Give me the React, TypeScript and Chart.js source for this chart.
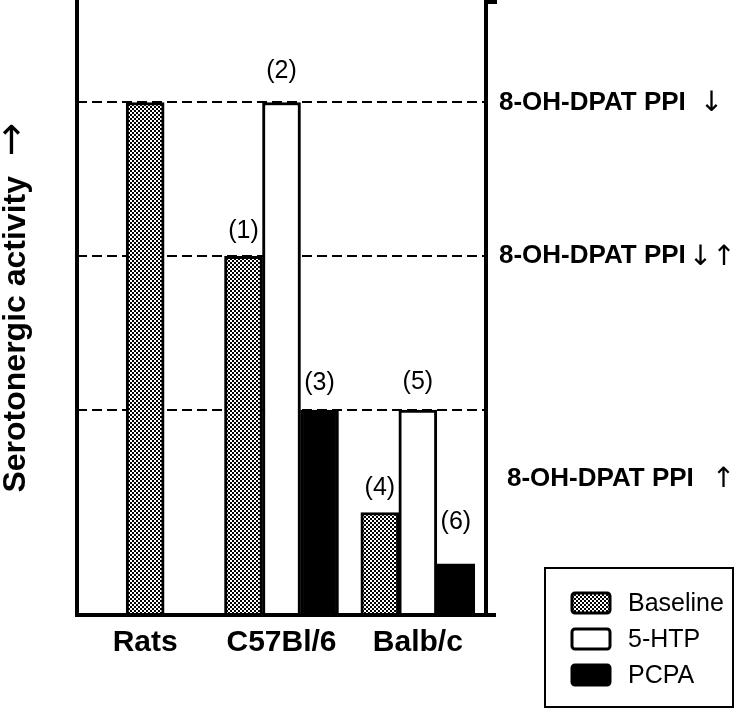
import React, { useEffect, useRef } from 'react';
import { Chart, registerables } from 'chart.js';

Chart.register(...registerables);

// ---------- data ----------
const categories = ['Rats', 'C57Bl/6', 'Balb/c'];
const seriesNames = ['Baseline', '5-HTP', 'PCPA'];
const baselineValues = [10, 7, 2];
const htpValues = [null, 10, 4];
const pcpaValues = [null, 4, 1];
const baselineNotes = ['', '(1)', '(4)'];
const htpNotes = ['', '(2)', '(5)'];
const pcpaNotes = ['', '(3)', '(6)'];
const yMin = 0;
const yMax = 12;
const guideLevels = [4, 7, 10];
const sideLabels = ['8-OH-DPAT PPI', '8-OH-DPAT PPI', '8-OH-DPAT PPI'];
const sideArrows = ['\u2193', '\u2193\u2191', '\u2191'];
const sideLevels = [10, 7, 2.65];
const yTitle = 'Serotonergic activity';
const yTitleArrow = '\u2192';

// ---------- style ----------
const FONT = '"Liberation Sans", Arial, Helvetica, sans-serif';
const ARROW_FONT = '"DejaVu Sans", sans-serif';
const notesByDataset = [baselineNotes, htpNotes, pcpaNotes];
const noteLift = [
  [0, 25, 24],
  [0, 31, 28],
  [0, 27, 42],
];
const sideIndent = [0, 0, 8];
const sideGap = [14, 3, 18];

function makeChecker(): CanvasPattern | string {
  const c = document.createElement('canvas');
  c.width = 4;
  c.height = 4;
  const g = c.getContext('2d');
  if (!g) return '#888';
  g.fillStyle = '#fff';
  g.fillRect(0, 0, 4, 4);
  g.fillStyle = '#000';
  g.fillRect(0, 0, 2, 2);
  g.fillRect(2, 2, 2, 2);
  const p = g.createPattern(c, 'repeat');
  return p || '#888';
}

const decorPlugin = {
  id: 'decor',
  afterDatasetsDraw(chart: any) {
    const { ctx, chartArea: a, scales } = chart;
    const y = scales.y;
    ctx.save();

    // axes
    ctx.strokeStyle = '#000';
    ctx.lineWidth = 4;
    ctx.lineCap = 'butt';
    ctx.beginPath();
    ctx.moveTo(a.left, a.top);
    ctx.lineTo(a.left, a.bottom + 2);
    ctx.moveTo(a.left - 2, a.bottom);
    ctx.lineTo(a.right + 10, a.bottom);
    ctx.stroke();
    ctx.beginPath();
    ctx.moveTo(a.right + 11, a.top + 2);
    ctx.lineTo(a.right, a.top + 2);
    ctx.lineTo(a.right, a.bottom);
    ctx.stroke();

    // bar notes
    ctx.fillStyle = '#000';
    ctx.textAlign = 'center';
    ctx.textBaseline = 'middle';
    ctx.font = `25px ${FONT}`;
    chart.data.datasets.forEach((_ds: any, di: number) => {
      const meta = chart.getDatasetMeta(di);
      const notes = notesByDataset[di];
      meta.data.forEach((el: any, i: number) => {
        const t = notes[i];
        if (!t || el == null || el.y == null || isNaN(el.y)) return;
        ctx.fillText(t, el.x, el.y - noteLift[di][i]);
      });
    });

    // right-side labels
    ctx.textAlign = 'left';
    sideLabels.forEach((lab, i) => {
      const yy = y.getPixelForValue(sideLevels[i]);
      const x0 = a.right + 13 + sideIndent[i];
      ctx.font = `bold 26px ${FONT}`;
      ctx.fillText(lab, x0, yy);
      const w = ctx.measureText(lab).width;
      ctx.font = `28px ${ARROW_FONT}`;
      ctx.fillText(sideArrows[i], x0 + w + sideGap[i], yy + 1);
    });

    // y title (rotated)
    ctx.save();
    const cy = (a.top + a.bottom) / 2;
    ctx.translate(25, cy);
    ctx.rotate(-Math.PI / 2);
    ctx.textBaseline = 'alphabetic';
    ctx.font = `bold 32px ${FONT}`;
    const wt = ctx.measureText(yTitle).width;
    const gap = 20;
    ctx.font = `40px ${ARROW_FONT}`;
    const wa = ctx.measureText(yTitleArrow).width;
    const total = wt + gap + wa;
    ctx.font = `bold 32px ${FONT}`;
    ctx.fillText(yTitle, -total / 2, 0);
    ctx.font = `40px ${ARROW_FONT}`;
    ctx.fillText(yTitleArrow, -total / 2 + wt + gap, -1);
    ctx.restore();

    // legend box
    const W = chart.width;
    const H = chart.height;
    const bx = W - 191;
    const by = H - 142;
    const bw = 188;
    const bh = 139;
    ctx.lineWidth = 2;
    ctx.strokeStyle = '#000';
    ctx.strokeRect(bx, by, bw, bh);
    chart.data.datasets.forEach((ds: any, di: number) => {
      const cyy = by + 35 + di * 36;
      const sx = bx + 27;
      ctx.beginPath();
      if (ctx.roundRect) ctx.roundRect(sx, cyy - 10, 38, 20, 3);
      else ctx.rect(sx, cyy - 10, 38, 20);
      ctx.fillStyle = ds.backgroundColor;
      ctx.fill();
      ctx.lineWidth = 3;
      ctx.strokeStyle = '#000';
      ctx.stroke();
      ctx.fillStyle = '#000';
      ctx.font = `25px ${FONT}`;
      ctx.textAlign = 'left';
      ctx.textBaseline = 'middle';
      ctx.fillText(ds.label, bx + 83, cyy + 1);
    });

    ctx.restore();
  },
};

export default function App() {
  const ref = useRef<HTMLCanvasElement | null>(null);

  useEffect(() => {
    const canvas = ref.current;
    if (!canvas) return;
    const checker = makeChecker();
    const chart = new Chart(canvas, {
      type: 'bar',
      data: {
        labels: categories,
        datasets: [
          { label: seriesNames[0], data: baselineValues, backgroundColor: checker as any, borderColor: '#000', borderWidth: 3 },
          { label: seriesNames[1], data: htpValues as any, backgroundColor: '#fff', borderColor: '#000', borderWidth: 3 },
          { label: seriesNames[2], data: pcpaValues as any, backgroundColor: '#000', borderColor: '#000', borderWidth: 3 },
        ],
      },
      options: {
        responsive: false,
        animation: false,
        devicePixelRatio: 1,
        layout: { padding: { left: 77, right: 250, top: 0, bottom: 39 } },
        datasets: { bar: { barThickness: 38, skipNull: true, borderSkipped: 'bottom' } as any },
        plugins: {
          legend: { display: false },
          tooltip: { enabled: false },
          title: { display: false },
        },
        scales: {
          x: {
            offset: true,
            grid: { display: false, drawTicks: false },
            border: { display: false },
            ticks: {
              color: '#000',
              font: { family: FONT, size: 30, weight: 'bold' },
              padding: 10,
              maxRotation: 0,
              autoSkip: false,
            },
          },
          y: {
            min: yMin,
            max: yMax,
            grid: { color: '#000', lineWidth: 2, drawTicks: false },
            border: { display: false, dash: [10, 5] },
            ticks: { display: false },
            afterBuildTicks: (s: any) => {
              s.ticks = guideLevels.map((v) => ({ value: v }));
            },
          },
        },
      } as any,
      plugins: [decorPlugin],
    });
    return () => chart.destroy();
  }, []);

  return (
    <div style={{ position: 'fixed', left: 0, top: 0, width: 736, height: 710, background: '#fff' }}>
      <canvas ref={ref} width={736} height={710} style={{ display: 'block', width: 736, height: 710 }} />
    </div>
  );
}
